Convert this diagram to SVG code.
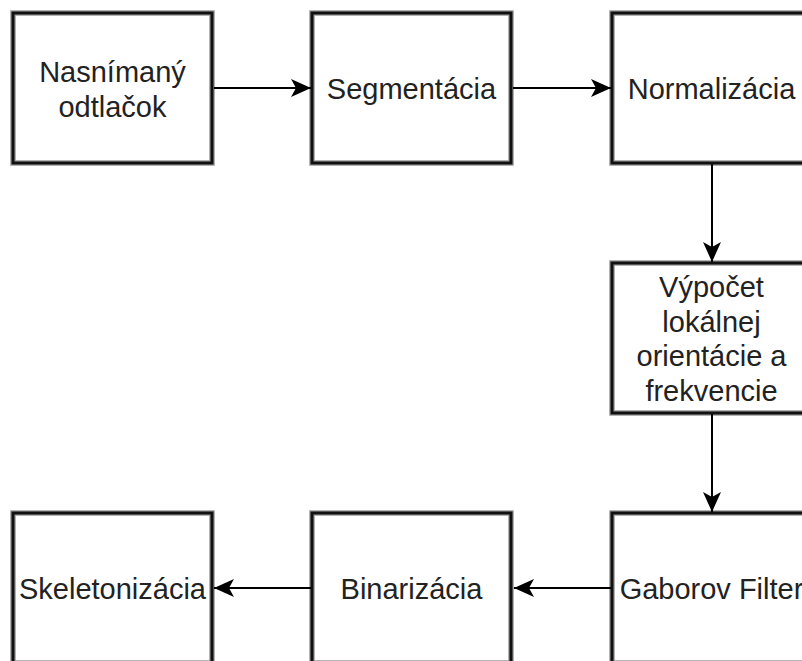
<svg xmlns="http://www.w3.org/2000/svg" width="802" height="661" viewBox="0 0 802 661">
  <style>
    .halo { fill: #ffffff; stroke: #9a9a9a; stroke-width: 5.5; }
    .edge { fill: none; stroke: #111111; stroke-width: 3; }
    .lbl { font-family: "Liberation Sans", Arial, sans-serif; font-size: 29px; fill: #222222; text-anchor: middle; }
    .conn { fill: none; stroke: #000000; stroke-width: 2; }
  </style>
  <defs>
    <marker id="arr" viewBox="0 0 20 18" refX="20" refY="9" markerWidth="20" markerHeight="18" markerUnits="userSpaceOnUse" orient="auto">
      <path d="M0,0 L20,9 L0,18 L5,9 Z" fill="#000000"/>
    </marker>
  </defs>
  <rect width="802" height="661" fill="#ffffff"/>

  <g id="n1">
    <rect class="halo" x="13" y="13" width="199" height="150"/>
    <rect class="edge" x="13" y="13" width="199" height="150"/>
    <text class="lbl" x="112.5" y="82">Nasnímaný</text>
    <text class="lbl" x="112.5" y="117">odtlačok</text>
  </g>
  <g id="n2">
    <rect class="halo" x="312" y="13" width="199" height="150"/>
    <rect class="edge" x="312" y="13" width="199" height="150"/>
    <text class="lbl" x="411.5" y="99">Segmentácia</text>
  </g>
  <g id="n3">
    <rect class="halo" x="612" y="13" width="199" height="150"/>
    <rect class="edge" x="612" y="13" width="199" height="150"/>
    <text class="lbl" x="711.5" y="99">Normalizácia</text>
  </g>
  <g id="n4">
    <rect class="halo" x="612" y="263" width="199" height="150"/>
    <rect class="edge" x="612" y="263" width="199" height="150"/>
    <text class="lbl" x="711.5" y="297">Výpočet</text>
    <text class="lbl" x="711.5" y="331.5">lokálnej</text>
    <text class="lbl" x="711.5" y="366">orientácie a</text>
    <text class="lbl" x="711.5" y="400.5">frekvencie</text>
  </g>
  <g id="n5">
    <rect class="halo" x="612" y="513" width="199" height="150"/>
    <rect class="edge" x="612" y="513" width="199" height="150"/>
    <text class="lbl" x="711.5" y="599">Gaborov Filter</text>
  </g>
  <g id="n6">
    <rect class="halo" x="312" y="513" width="199" height="150"/>
    <rect class="edge" x="312" y="513" width="199" height="150"/>
    <text class="lbl" x="411.5" y="599">Binarizácia</text>
  </g>
  <g id="n7">
    <rect class="halo" x="13" y="513" width="199" height="150"/>
    <rect class="edge" x="13" y="513" width="199" height="150"/>
    <text class="lbl" x="112.5" y="599">Skeletonizácia</text>
  </g>

  <g id="connectors">
    <path class="conn" d="M214,88 L311,88" marker-end="url(#arr)"/>
    <path class="conn" d="M513,88 L611,88" marker-end="url(#arr)"/>
    <path class="conn" d="M712,164 L712,262" marker-end="url(#arr)"/>
    <path class="conn" d="M712,414 L712,512" marker-end="url(#arr)"/>
    <path class="conn" d="M611,588 L514,588" marker-end="url(#arr)"/>
    <path class="conn" d="M311,588 L214,588" marker-end="url(#arr)"/>
  </g>
</svg>
